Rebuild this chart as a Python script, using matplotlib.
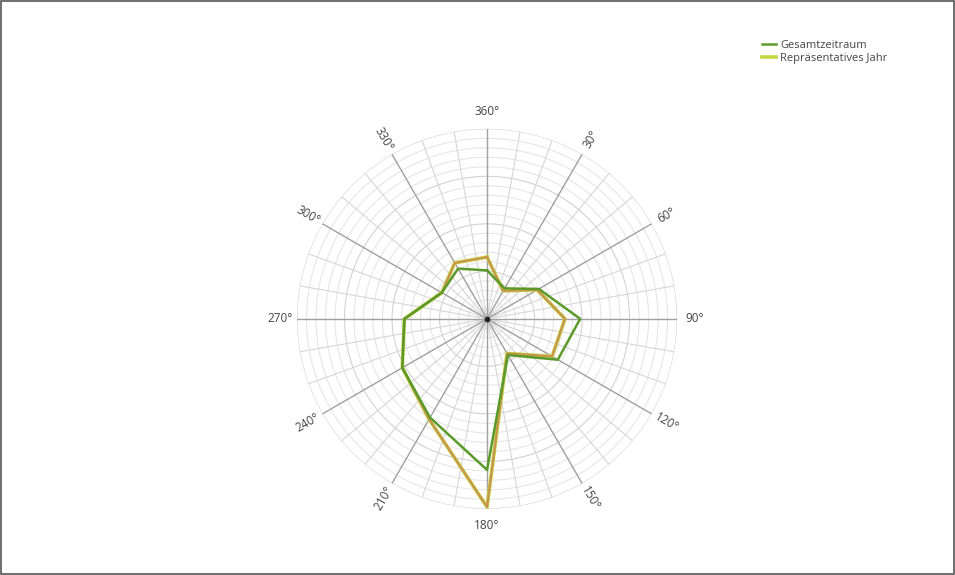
import numpy as np
import matplotlib
matplotlib.use("Agg")
import matplotlib.pyplot as plt
from matplotlib.patches import Rectangle

plt.rcParams['font.family'] = ['Open Sans', 'DejaVu Sans']

# wind directions (deg) and frequencies (%)
directions = [0, 30, 60, 90, 120, 150, 180, 210, 240, 270, 300, 330]
gesamt = [5.1, 3.7, 6.3, 9.8, 8.6, 4.4, 15.9, 12.0, 10.3, 8.7, 5.5, 6.1]
repr_jahr = [6.5, 3.4, 6.1, 8.2, 7.9, 4.2, 19.8, 12.2, 10.3, 8.7, 5.5, 6.8]
tick_labels = ["360°", "30°", "60°", "90°", "120°", "150°",
               "180°", "210°", "240°", "270°", "300°", "330°"]
r_max = 20

fig = plt.figure(figsize=(9.55, 5.75), dpi=100)
ax = fig.add_axes([0.311, 0.115, 0.398, 0.661], projection='polar')
ax.set_theta_zero_location('N')
ax.set_theta_direction(-1)
ax.set_ylim(0, r_max)
ax.spines['polar'].set_visible(False)
ax.set_xticks([])
ax.set_yticks([])
ax.grid(False)

# concentric circles
circ = np.linspace(0, 2 * np.pi, 400)
for r in range(1, r_max + 1):
    col = '#d2d2d2' if r % 5 == 0 else '#e6e6e6'
    ax.plot(circ, np.full_like(circ, r), color=col, lw=0.8, zorder=1)

# radial lines every 10 deg, darker every 30 deg
for d in range(0, 360, 10):
    t = np.deg2rad(d)
    if d % 30 == 0:
        ax.plot([t, t], [0, r_max], color='#a0a0a0', lw=1.0, zorder=2)
    else:
        ax.plot([t, t], [0, r_max], color='#d6d6d6', lw=0.8, zorder=1)
ax.plot([0], [0], 'o', color='#222222', ms=3, zorder=3)

# direction labels
for d, lab in zip(directions, tick_labels):
    if d in (0, 180, 90, 270):
        rot = 0
    elif d < 180:
        rot = 90 - d
    else:
        rot = 270 - d
    ax.text(np.deg2rad(d), r_max * 1.09, lab, ha='center', va='center',
            rotation=rot, rotation_mode='anchor', fontsize=8.5, color='#444444')

th = np.deg2rad(directions + [directions[0]])
g = gesamt + [gesamt[0]]
rj = repr_jahr + [repr_jahr[0]]
ax.plot(th, g, color='#5a9a2a', lw=1.8, zorder=5, label='Gesamtzeitraum')
ax.plot(th, rj, color='#c4d640', lw=2.6, zorder=4, label='Repräsentatives Jahr')
ax.plot(th, rj, color='#c8964e', lw=1.6, zorder=4)

handles, labels = ax.get_legend_handles_labels()
fig.legend(handles, labels, loc='upper left', bbox_to_anchor=(0.787, 0.948),
           frameon=False, fontsize=8, handlelength=1.3, handletextpad=0.4,
           labelspacing=0.15, labelcolor='#444444')

fig.add_artist(Rectangle((0.001, 0.001), 0.998, 0.998, transform=fig.transFigure,
                         fill=False, edgecolor='#555555', lw=1.2))

fig.savefig('out.png', dpi=100, facecolor='white')
